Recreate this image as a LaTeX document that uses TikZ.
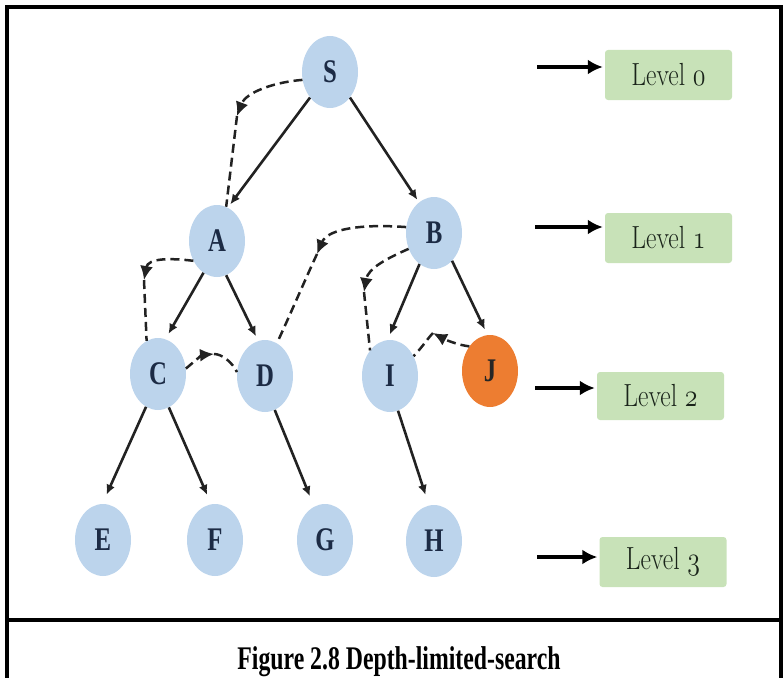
\documentclass[tikz,border=0pt]{standalone}
\usepackage{fontspec}
\usetikzlibrary{shapes.geometric,arrows.meta}
\newfontfamily\labelserif{Liberation Serif}
% old-style digits taken from the math italic font, enlarged past its largest design size
\newcommand{\osnum}[1]{\scalebox{1.3}{\fontencoding{OML}\fontfamily{cmm}\fontseries{m}\fontshape{it}\fontsize{24.88}{26}\selectfont #1}}
\newcommand{\narrowtxt}[2][0.8]{\scalebox{#1}[1]{#2}}
\definecolor{nodeblue}{HTML}{BCD4EC}
\definecolor{nodeorange}{HTML}{ED7D31}
\definecolor{levelgreen}{HTML}{C8E2B8}
\definecolor{inkgray}{HTML}{222222}
\definecolor{lettercol}{HTML}{1C2B45}
\definecolor{levelink}{HTML}{1A241A}
\begin{document}
\begin{tikzpicture}[x=1pt,y=-1pt,
  state/.style={ellipse, fill=nodeblue, minimum width=56pt, minimum height=72pt, inner sep=0pt,
    font=\labelserif\bfseries\fontsize{33}{35}\selectfont, text=lettercol},
  goal/.style={state, fill=nodeorange, text=black!85},
  treeedge/.style={draw=inkgray, line width=2.6pt, -{Latex[length=10pt,width=9pt]}},
  trav/.style={draw=inkgray, line width=2.5pt, dash pattern=on 9pt off 5pt},
  travtip/.style={trav, -{Latex[length=14pt,width=13pt]}},
  levelbox/.style={fill=levelgreen, rounded corners=3pt, minimum width=127pt, minimum height=50pt,
    inner sep=0pt, font=\fontsize{32}{34}\selectfont, text=levelink},
  levelarrow/.style={draw=black, line width=3.4pt, shorten >=2pt, -{Latex[length=15pt,width=15pt]}},
  frameline/.style={draw=black, line width=3.5pt},
]
\useasboundingbox (0,0) rectangle (784,677);

% outer frame and caption separator
\draw[frameline] (7,680) -- (7,7) -- (781,7) -- (781,680);
\draw[frameline] (7,620) -- (781,620);

% search tree
\node[state] (S) at (330,72)  {\narrowtxt[0.75]{S}};
\node[state] (A) at (217,241) {\narrowtxt[0.75]{A}};
\node[state] (B) at (434,233) {\narrowtxt[0.75]{B}};
\node[state] (C) at (158,374) {\narrowtxt[0.75]{C}};
\node[state] (D) at (265,376) {\narrowtxt[0.75]{D}};
\node[state] (I) at (390,376) {\narrowtxt[0.75]{I}};
\node[goal]  (J) at (490,371) {\narrowtxt[0.75]{J}};
\node[state] (E) at (103,540) {\narrowtxt[0.75]{E}};
\node[state] (F) at (215,540) {\narrowtxt[0.75]{F}};
\node[state] (G) at (325,540) {\narrowtxt[0.75]{G}};
\node[state] (H) at (434,541) {\narrowtxt[0.75]{H}};

\draw[treeedge, shorten >=4pt]  (S.232) -- (A.72);
\draw[treeedge, shorten >=3pt]  (S.308) -- (B.116);
\draw[treeedge, shorten >=6pt]  (A.247) -- (C.78);
\draw[treeedge, shorten >=5pt]  (A.285) -- (D.101);
\draw[treeedge, shorten >=6pt]  (B.245) -- (I.94);
\draw[treeedge, shorten >=6pt]  (B.303) -- (J.94);
\draw[treeedge, shorten >=10pt] (C.250) -- (E.91);
\draw[treeedge, shorten >=10pt] (C.288) -- (F.96);
\draw[treeedge, shorten >=11pt] (D.286) -- (G.108);
\draw[treeedge, shorten >=11pt] (I.283) -- (H.98);

% depth-first traversal order
\coordinate (k1) at (237,116);
\coordinate (k2) at (144,280);
\coordinate (k3) at (214,354);
\coordinate (k4) at (317,254);
\coordinate (k5) at (364,292);
\coordinate (k6) at (433,333);

\draw[travtip] (S.196) .. controls (275,82) and (246,92) .. (k1);
\draw[trav] (k1) -- (A.75);

\draw[travtip] (A.220) .. controls (170,258) and (148,258) .. (k2);
\draw[trav] (k2) -- (C.109);

\draw[travtip] (C.11) .. controls (196,360) and (202,355) .. (k3);
\draw[trav] (k3) .. controls (222,354) and (232,362) .. (D.172);

\draw[travtip] (B.168) .. controls (365,224) and (328,228) .. (k4);
\draw[trav] (k4) .. controls (305,280) and (290,315) .. (D.70);

\draw[travtip] (B.212) .. controls (388,258) and (368,268) .. (k5);
\draw[trav] (k5) -- (I.128);

\draw[travtip] (J.130) .. controls (458,345) and (446,340) .. (k6);
\draw[trav] (k6) .. controls (428,338) and (424,345) .. (I.40);

% depth levels
\node[levelbox] (L0) at (668.5,75)  {\narrowtxt{Level \osnum{0}}};
\node[levelbox] (L1) at (668.5,238) {\narrowtxt{Level \osnum{1}}};
\node[levelbox, minimum height=48pt] (L2) at (660.5,396) {\narrowtxt{Level \osnum{2}}};
\node[levelbox] (L3) at (663,562)   {\narrowtxt{Level \osnum{3}}};

\coordinate (p0) at (537,67);
\coordinate (p1) at (535,227);
\coordinate (p2) at (535,388);
\coordinate (p3) at (537,557);
\draw[levelarrow] (p0) -- (p0 -| L0.west);
\draw[levelarrow] (p1) -- (p1 -| L1.west);
\draw[levelarrow] (p2) -- (p2 -| L2.west);
\draw[levelarrow] (p3) -- (p3 -| L3.west);

% caption
\node[font=\labelserif\bfseries\fontsize{33}{35}\selectfont, anchor=base] (cap) at (399,669)
  {\narrowtxt[0.72]{Figure 2.8 Depth-limited-search}};
\end{tikzpicture}
\end{document}
